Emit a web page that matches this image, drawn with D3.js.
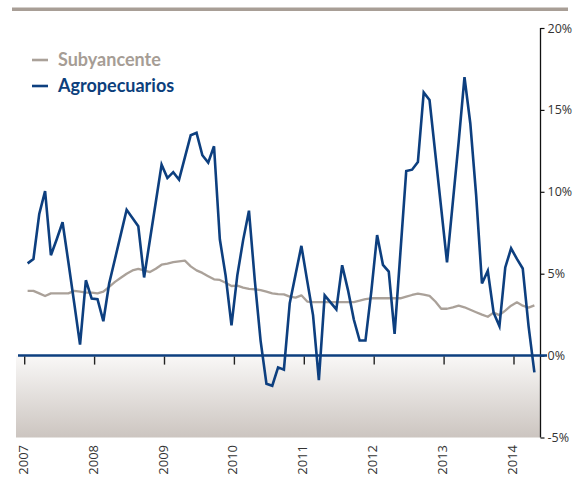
<!DOCTYPE html>
<html>
<head>
<meta charset="utf-8">
<script src="https://cdn.jsdelivr.net/npm/d3@7"></script>
<style>
  html, body { margin: 0; padding: 0; background: #fff; }
  svg { display: block; }
</style>
</head>
<body>
<svg id="chart" width="574" height="477"></svg>
<script>
// ---- data (monthly, Jan 2007 .. Apr 2014, annual % change) ----
const years = ["2007", "2008", "2009", "2010", "2011", "2012", "2013", "2014"];
const yTicks = [-5, 0, 5, 10, 15, 20];
const seriesNames = ["Subyancente", "Agropecuarios"];

const subyacente = [
  3.95, 3.95, 3.8, 3.64, 3.8, 3.8, 3.8, 3.8, 3.95, 3.9, 3.85, 3.85,
  3.8, 3.9, 4.2, 4.5, 4.75, 5.0, 5.2, 5.3, 5.2, 5.1, 5.3, 5.55,
  5.62, 5.7, 5.75, 5.8, 5.45, 5.2, 5.05, 4.85, 4.66, 4.62, 4.45, 4.25,
  4.27, 4.15, 4.07, 4.05, 4.0, 3.9, 3.8, 3.75, 3.74, 3.6, 3.54, 3.68,
  3.3, 3.27, 3.27, 3.27, 3.27, 3.27, 3.27, 3.27, 3.27, 3.35, 3.45, 3.5,
  3.5, 3.5, 3.5, 3.5, 3.5, 3.6, 3.7, 3.78, 3.72, 3.65, 3.3, 2.86,
  2.86, 2.95, 3.05, 2.95, 2.8, 2.65, 2.5, 2.37, 2.62, 2.47, 2.75, 3.05,
  3.25, 3.05, 2.93, 3.07
];

const agropecuarios = [
  5.63, 5.9, 8.65, 10.04, 6.13, 7.1, 8.14, 5.7, 3.2, 0.67, 4.6, 3.48,
  3.44, 2.1, 4.4, 5.9, 7.4, 8.9, 8.4, 7.9, 4.77, 7.07, 9.36, 11.66,
  10.84, 11.2, 10.74, 12.1, 13.45, 13.6, 12.23, 11.78, 12.78, 7.1, 4.87, 1.84,
  4.9, 7.05, 8.85, 4.6, 0.9, -1.72, -1.84, -0.72, -0.86, 3.2, 4.95, 6.7,
  4.56, 2.47, -1.5, 3.68, 3.25, 2.82, 5.52, 4.0, 2.2, 0.92, 0.92, 3.9,
  7.36, 5.54, 5.13, 1.33, 6.3, 11.27, 11.35, 11.82, 16.07, 15.6, 12.3, 9.0,
  5.69, 9.37, 13.05, 17.0, 14.17, 9.8, 4.4, 5.17, 2.62, 1.8, 5.38, 6.55,
  5.9, 5.32, 1.8, -1.02
];

// ---- styles ----
const blue = "#0d3f7f";
const grey = "#aaa199";

const svg = d3.select("#chart");
const defs = svg.append("defs");
const grad = defs.append("linearGradient")
  .attr("id", "negGrad").attr("x1", 0).attr("y1", 0).attr("x2", 0).attr("y2", 1);
grad.append("stop").attr("offset", "0%").attr("stop-color", "#f9f8f7");
grad.append("stop").attr("offset", "100%").attr("stop-color", "#ccc5c0");

// scales: index-based monthly band positions
const x = d3.scaleLinear().domain([-0.5, 83.5]).range([24.7, 514]);
const y = d3.scaleLinear().domain([-5, 20]).range([437.5, 28]);
const axisX = 540.5;

// top rule
svg.append("rect").attr("x", 12).attr("y", 7.5).attr("width", 556).attr("height", 3.5)
  .attr("fill", "#a89e96");

// negative zone background
svg.append("rect")
  .attr("x", 16).attr("y", y(0))
  .attr("width", axisX - 16).attr("height", y(-5) - y(0))
  .attr("fill", "url(#negGrad)");

// right axis
const yAxis = d3.axisRight(y).tickValues(yTicks).tickSize(4).tickPadding(3)
  .tickFormat(d => d + "%");
const gy = svg.append("g").attr("transform", `translate(${axisX},0)`).call(yAxis);
gy.select(".domain").attr("stroke", "#111").attr("stroke-width", 1.3)
  .attr("d", `M0,${y(20)}V${y(-5)}`);
gy.selectAll(".tick line").attr("stroke", "#111").attr("stroke-width", 1.2);
gy.selectAll(".tick text")
  .attr("fill", "#333").attr("font-family", "'Open Sans', sans-serif")
  .attr("font-size", 12.5);

// zero line
svg.append("line")
  .attr("x1", 18).attr("x2", 547).attr("y1", y(0)).attr("y2", y(0))
  .attr("stroke", blue).attr("stroke-width", 2.5);

// year ticks (at start of each January)
const yearIdx = years.map((d, k) => k * 12 - 0.5);
svg.append("g").selectAll("line").data(yearIdx).join("line")
  .attr("x1", d => x(d)).attr("x2", d => x(d))
  .attr("y1", y(0) + 1).attr("y2", y(0) + 9)
  .attr("stroke", "#222").attr("stroke-width", 1.4);

// year labels rotated
svg.append("g").selectAll("text").data(years).join("text")
  .attr("transform", (d, k) => `translate(${x(yearIdx[k]) + 3},445) rotate(-90)`)
  .attr("text-anchor", "end")
  .attr("fill", "#333")
  .attr("font-family", "'Open Sans', sans-serif")
  .attr("font-size", 13)
  .text(d => d);

// lines
const line = d3.line().x((d, i) => x(i)).y(d => y(d));
svg.append("path").datum(subyacente).attr("d", line)
  .attr("fill", "none").attr("stroke", grey).attr("stroke-width", 2.3)
  .attr("stroke-linejoin", "round");
svg.append("path").datum(agropecuarios).attr("d", line)
  .attr("fill", "none").attr("stroke", blue).attr("stroke-width", 2.6)
  .attr("stroke-linejoin", "miter");

// legend
const legendColors = [grey, blue];
const lg = svg.append("g");
seriesNames.forEach((name, k) => {
  const cy = 60 + k * 26;
  lg.append("line").attr("x1", 32).attr("x2", 48).attr("y1", cy).attr("y2", cy)
    .attr("stroke", legendColors[k]).attr("stroke-width", 2.6);
  lg.append("text").attr("x", 58).attr("y", cy + 6)
    .attr("fill", k === 0 ? "#a69d95" : "#0c3f7c")
    .attr("font-family", "Lato, 'Open Sans', sans-serif")
    .attr("font-weight", "bold")
    .attr("font-size", 18)
    .text(name);
});
</script>
</body>
</html>
